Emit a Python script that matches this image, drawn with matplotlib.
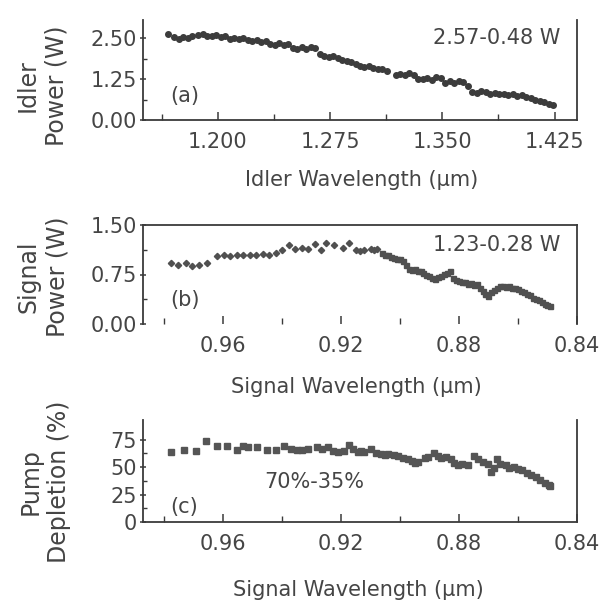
import matplotlib
matplotlib.use("Agg")
import matplotlib.pyplot as plt
from matplotlib.ticker import FormatStrFormatter

plt.rcParams['font.family'] = ['DejaVu Sans']

# ---------------- data ----------------
idler_wl = [1.167, 1.171, 1.174, 1.177, 1.180, 1.183, 1.187, 1.190, 1.193, 1.196,
            1.199, 1.202, 1.205, 1.208, 1.211, 1.214, 1.217, 1.220, 1.223, 1.226,
            1.229, 1.232, 1.235, 1.238, 1.241, 1.244, 1.247, 1.250, 1.253, 1.256,
            1.259, 1.262, 1.265, 1.268, 1.271, 1.274, 1.277, 1.280, 1.283, 1.286,
            1.289, 1.292, 1.295, 1.298, 1.301, 1.304, 1.307, 1.310, 1.313, 1.319,
            1.322, 1.325, 1.328, 1.331, 1.334, 1.337, 1.340, 1.343, 1.346, 1.349,
            1.352, 1.355, 1.358, 1.361, 1.364, 1.367, 1.370, 1.373, 1.376, 1.379,
            1.382, 1.385, 1.388, 1.391, 1.394, 1.397, 1.400, 1.403, 1.406, 1.409,
            1.412, 1.415, 1.418, 1.421, 1.424]
idler_power = [2.61, 2.52, 2.48, 2.53, 2.50, 2.55, 2.60, 2.62, 2.57, 2.56,
               2.58, 2.52, 2.55, 2.48, 2.50, 2.47, 2.49, 2.44, 2.41, 2.43,
               2.38, 2.40, 2.33, 2.30, 2.34, 2.28, 2.31, 2.19, 2.16, 2.22,
               2.18, 2.24, 2.20, 2.00, 1.94, 1.92, 1.95, 1.89, 1.84, 1.80,
               1.76, 1.72, 1.66, 1.62, 1.65, 1.58, 1.55, 1.56, 1.50, 1.37,
               1.40, 1.36, 1.42, 1.38, 1.26, 1.24, 1.28, 1.22, 1.30, 1.27,
               1.14, 1.18, 1.12, 1.20, 1.15, 1.04, 0.86, 0.82, 0.88, 0.84,
               0.80, 0.82, 0.78, 0.80, 0.77, 0.79, 0.74, 0.76, 0.70, 0.66,
               0.62, 0.58, 0.54, 0.50, 0.47]

signal_wl = [0.9776, 0.9750, 0.9725, 0.9703, 0.9681, 0.9654, 0.9618, 0.9596, 0.9574, 0.9552,
             0.9530, 0.9508, 0.9486, 0.9464, 0.9442, 0.9420, 0.9398, 0.9376, 0.9354, 0.9332,
             0.9310, 0.9288, 0.9266, 0.9250, 0.9224, 0.9194, 0.9173, 0.9150, 0.9135, 0.9121,
             0.9098, 0.9087, 0.9076, 0.9060, 0.9050, 0.9040, 0.9030, 0.9020, 0.9010, 0.9000,
             0.8990, 0.8980, 0.8970, 0.8960, 0.8950, 0.8940, 0.8930, 0.8920, 0.8910, 0.8900,
             0.8890, 0.8880, 0.8870, 0.8860, 0.8850, 0.8840, 0.8830, 0.8820, 0.8810, 0.8800,
             0.8790, 0.8780, 0.8770, 0.8760, 0.8750, 0.8740, 0.8730, 0.8720, 0.8710, 0.8700,
             0.8690, 0.8680, 0.8670, 0.8660, 0.8650, 0.8640, 0.8630, 0.8620, 0.8610, 0.8600,
             0.8590, 0.8580, 0.8570, 0.8560, 0.8550, 0.8540, 0.8530, 0.8520, 0.8510, 0.8500,
             0.8490]
signal_power = [0.92, 0.90, 0.93, 0.88, 0.90, 0.93, 1.03, 1.04, 1.03, 1.05,
                1.04, 1.05, 1.04, 1.06, 1.05, 1.07, 1.12, 1.19, 1.14, 1.15,
                1.13, 1.21, 1.12, 1.23, 1.20, 1.15, 1.22, 1.12, 1.11, 1.12,
                1.13, 1.12, 1.13, 1.07, 1.05, 1.04, 1.02, 1.00, 0.99, 0.98,
                0.95, 0.90, 0.84, 0.82, 0.83, 0.80, 0.80, 0.78, 0.74, 0.72,
                0.69, 0.68, 0.71, 0.73, 0.76, 0.78, 0.80, 0.70, 0.66, 0.65,
                0.64, 0.63, 0.60, 0.62, 0.59, 0.60, 0.55, 0.50, 0.46, 0.43,
                0.48, 0.52, 0.55, 0.57, 0.58, 0.56, 0.57, 0.54, 0.55, 0.53,
                0.50, 0.49, 0.46, 0.44, 0.40, 0.38, 0.36, 0.33, 0.31, 0.29,
                0.28]

depl_wl = [0.9776, 0.9731, 0.9692, 0.9658, 0.9618, 0.9584, 0.9553, 0.9530, 0.9516, 0.9483,
           0.9449, 0.9421, 0.9393, 0.9370, 0.9350, 0.9330, 0.9310, 0.9281, 0.9265, 0.9245,
           0.9227, 0.9208, 0.9190, 0.9173, 0.9160, 0.9143, 0.9130, 0.9120, 0.9098, 0.9080,
           0.9065, 0.9050, 0.9040, 0.9021, 0.9005, 0.8990, 0.8974, 0.8960, 0.8950, 0.8940,
           0.8916, 0.8906, 0.8884, 0.8870, 0.8860, 0.8845, 0.8827, 0.8815, 0.8804, 0.8790,
           0.8770, 0.8748, 0.8735, 0.8720, 0.8700, 0.8692, 0.8680, 0.8670, 0.8660, 0.8641,
           0.8630, 0.8615, 0.8600, 0.8585, 0.8570, 0.8555, 0.8540, 0.8525, 0.8510, 0.8495,
           0.8490]
depletion = [64, 66, 65, 74, 69, 69, 66, 69, 68, 68,
             66, 66, 69, 67, 66, 66, 67, 68, 67, 68,
             65, 64, 65, 70, 67, 64, 65, 64, 67, 63,
             62, 61, 62, 61, 60, 58, 57, 56, 54, 55,
             58, 59, 63, 60, 58, 59, 57, 54, 52, 53,
             52, 60, 57, 55, 53, 46, 49, 57, 53, 52,
             49, 50, 48, 47, 45, 43, 41, 38, 36, 34,
             33]

idler_ticks = [1.200, 1.275, 1.350, 1.425]
signal_ticks = [0.96, 0.92, 0.88, 0.84]
# ---------------------------------------

W, H = 611, 607
fig = plt.figure(figsize=(W / 100, H / 100), dpi=100)
fig.patch.set_facecolor('white')

TXT = '#454545'
SPN = '#3a3a3a'
FS = 15
FSY = 17


def add_ax(left, top, right, bottom):
    return fig.add_axes([left / W, (H - bottom) / H, (right - left) / W, (bottom - top) / H])


def style(ax, hide):
    for s in ax.spines.values():
        s.set_color(SPN)
        s.set_linewidth(1.3)
    ax.spines[hide].set_visible(False)
    ax.tick_params(axis='x', which='major', direction='in', length=6, width=1.1,
                   colors=SPN, labelcolor=TXT, labelsize=FS, pad=9,
                   top=False, bottom=True)
    ax.tick_params(axis='x', which='minor', direction='in', length=4, width=1.0,
                   colors=SPN, top=False, bottom=True)
    ax.tick_params(axis='y', which='major', direction='inout', length=5, width=1.1,
                   colors=SPN, labelcolor=TXT, labelsize=FS, pad=2, right=False)
    ax.tick_params(axis='y', which='minor', direction='in', length=3, width=1.0,
                   colors=SPN, right=False)


# ---- (a) ----
axa = add_ax(143, 20, 577, 120)
axa.plot(idler_wl, idler_power, 'o', ms=4.0, color='#3c3c3c', mec='#3c3c3c')
axa.set_xlim(1.150, 1.440)
axa.set_ylim(0, 3.05)
axa.set_xticks(idler_ticks)
axa.xaxis.set_major_formatter(FormatStrFormatter('%.3f'))
axa.set_xticks([1.1625, 1.2375, 1.3125, 1.3875], minor=True)
axa.set_yticks([0, 1.25, 2.5])
axa.set_yticks([0.625, 1.875], minor=True)
axa.yaxis.set_major_formatter(FormatStrFormatter('%.2f'))
style(axa, 'top')
axa.text(0.961, 0.815, '2.57-0.48 W', transform=axa.transAxes, ha='right', va='center',
         fontsize=FS, color=TXT)
axa.text(0.062, 0.24, '(a)', transform=axa.transAxes, ha='left', va='center',
         fontsize=FS, color=TXT)

# ---- (b) ----
axb = add_ax(143, 225, 577, 324)
axb.plot(signal_wl[:33], signal_power[:33], 'D', ms=3.2, color='#505050', mec='#505050')
axb.plot(signal_wl[33:], signal_power[33:], 's', ms=3.6, color='#505050', mec='#505050')
axb.set_xlim(0.987, 0.84)
axb.set_ylim(0, 1.5)
axb.set_xticks(signal_ticks)
axb.set_xticks([0.98, 0.94, 0.90, 0.86], minor=True)
axb.xaxis.set_major_formatter(FormatStrFormatter('%.2f'))
axb.set_yticks([0, 0.75, 1.5])
axb.set_yticks([0.375, 1.125], minor=True)
axb.yaxis.set_major_formatter(FormatStrFormatter('%.2f'))
style(axb, 'bottom')
axb.text(0.961, 0.80, '1.23-0.28 W', transform=axb.transAxes, ha='right', va='center',
         fontsize=FS, color=TXT)
axb.text(0.062, 0.24, '(b)', transform=axb.transAxes, ha='left', va='center',
         fontsize=FS, color=TXT)

# ---- (c) ----
axc = add_ax(143, 420, 577, 522)
axc.plot(depl_wl, depletion, 's', ms=4.3, color='#555555', mec='#555555')
axc.set_xlim(0.987, 0.84)
axc.set_ylim(0, 93)
axc.set_xticks(signal_ticks)
axc.set_xticks([0.98, 0.94, 0.90, 0.86], minor=True)
axc.xaxis.set_major_formatter(FormatStrFormatter('%.2f'))
axc.set_yticks([0, 25, 50, 75])
axc.set_yticks([12.5, 37.5, 62.5], minor=True)
style(axc, 'top')
axc.text(0.394, 0.39, '70%-35%', transform=axc.transAxes, ha='center', va='center',
         fontsize=FS, color=TXT)
axc.text(0.062, 0.147, '(c)', transform=axc.transAxes, ha='left', va='center',
         fontsize=FS, color=TXT)

# ---- axis labels (figure text, pixel positions) ----
def ftext(x, y, s, **kw):
    fig.text(x / W, (H - y) / H, s, **kw)

ftext(362, 180, 'Idler Wavelength (μm)', ha='center', va='center', fontsize=FS, color=TXT)
ftext(356, 387, 'Signal Wavelength (μm)', ha='center', va='center', fontsize=FS, color=TXT)
ftext(358, 590, 'Signal Wavelength (μm)', ha='center', va='center', fontsize=FS, color=TXT)

ftext(42, 86, 'Idler\nPower (W)', rotation=90, ha='center', va='center',
      multialignment='center', fontsize=FSY, color=TXT, linespacing=1.25)
ftext(43, 277, 'Signal\nPower (W)', rotation=90, ha='center', va='center',
      multialignment='center', fontsize=FSY, color=TXT, linespacing=1.25)
ftext(45, 482, 'Pump\nDepletion (%)', rotation=90, ha='center', va='center',
      multialignment='center', fontsize=FSY, color=TXT, linespacing=1.25)

fig.savefig('out.png', dpi=100, facecolor='white')
